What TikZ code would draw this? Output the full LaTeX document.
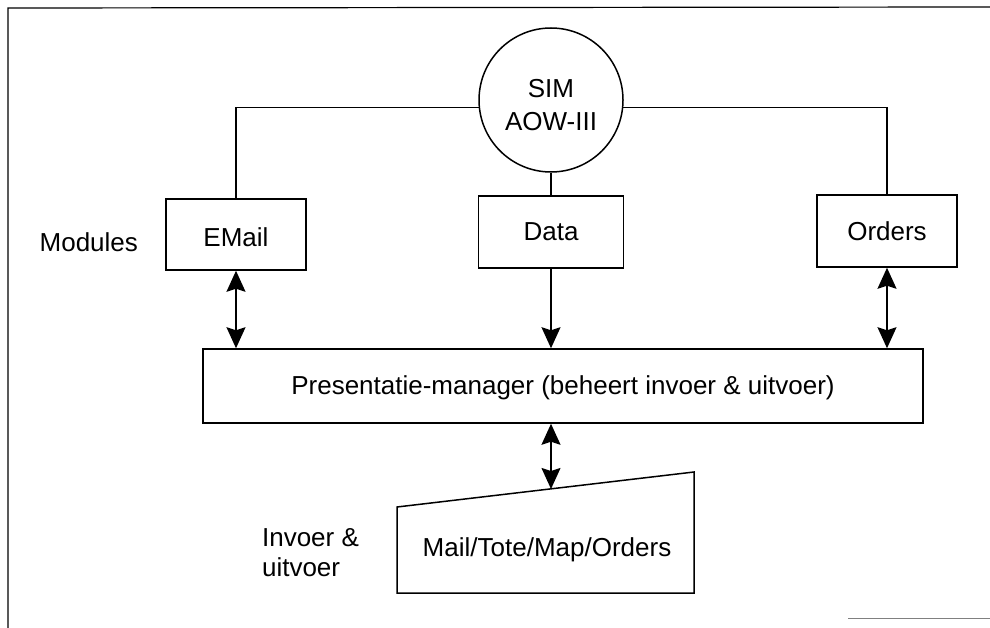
\documentclass[tikz,border=0pt]{standalone}
\usepackage{fontspec}
\setmainfont{Liberation Sans}
\usetikzlibrary{arrows.meta}
\newcommand{\lowr}[2]{\raisebox{-#1pt}[\height][\depth]{#2}}
\begin{document}
\begin{tikzpicture}[x=1pt,y=-1pt,
  line width=1.5pt,
  every node/.style={font=\fontsize{26}{34}\selectfont},
  box/.style={draw, rectangle, inner sep=0pt},
  conn/.style={line width=1.5pt},
  tip/.style={-{Stealth[length=21pt,width=19pt,inset=3pt]}},
  dtip/.style={{Stealth[length=21pt,width=19pt,inset=3pt]}-{Stealth[length=21pt,width=19pt,inset=3pt]}}
]
\useasboundingbox (0,0) rectangle (990,628);
% frame
\draw[line width=1.2pt] (8,628) -- (8,8) -- (990,7);
\draw[line width=0.8pt, gray] (848,618) -- (990,618);

\node[draw, circle, minimum size=144pt, inner sep=0pt, align=center] (sim) at (551,100) {\lowr{7}{\begin{tabular}{@{}c@{}}SIM\\[-1pt]AOW-III\end{tabular}}};
\node[box, minimum width=140pt, minimum height=71pt] (email) at (236,234.5) {\lowr{3}{EMail}};
\node[box, minimum width=145pt, minimum height=72pt] (data) at (551,232) {Data};
\node[box, minimum width=140pt, minimum height=72pt] (orders) at (887,231) {Orders};
\node[box, minimum width=720pt, minimum height=74pt] (pm) at (563,386) {\lowr{2}{Presentatie-manager (beheert invoer \& uitvoer)}};
\node[anchor=east] (modules) at (142,242) {Modules};

% bottom shape
\coordinate (bl) at (397,593);
\coordinate (tl) at (397,507);
\coordinate (tr) at (694,472);
\coordinate (br) at (694,593);
\draw (bl) -- (tl) -- (tr) -- (br) -- cycle;
\coordinate (mtop) at (551,489);
\node (io) at (547,550) {Mail/Tote/Map/Orders};
\node[anchor=west, align=left, font=\fontsize{26}{30}\selectfont] (inv) at (258,553) {Invoer \&\\uitvoer};

% connectors
\draw[conn] (email.north) |- (sim.186);
\draw[conn] (orders.north) |- (sim.354);
\draw[conn] (sim.south) -- (data.north);
\draw[conn, dtip] (email.south) -- (email.south |- pm.north);
\draw[conn, tip] (data.south) -- (data.south |- pm.north);
\draw[conn, dtip] (orders.south) -- (orders.south |- pm.north);
\draw[conn, dtip] (mtop |- pm.south) -- (mtop);
\end{tikzpicture}
\end{document}
